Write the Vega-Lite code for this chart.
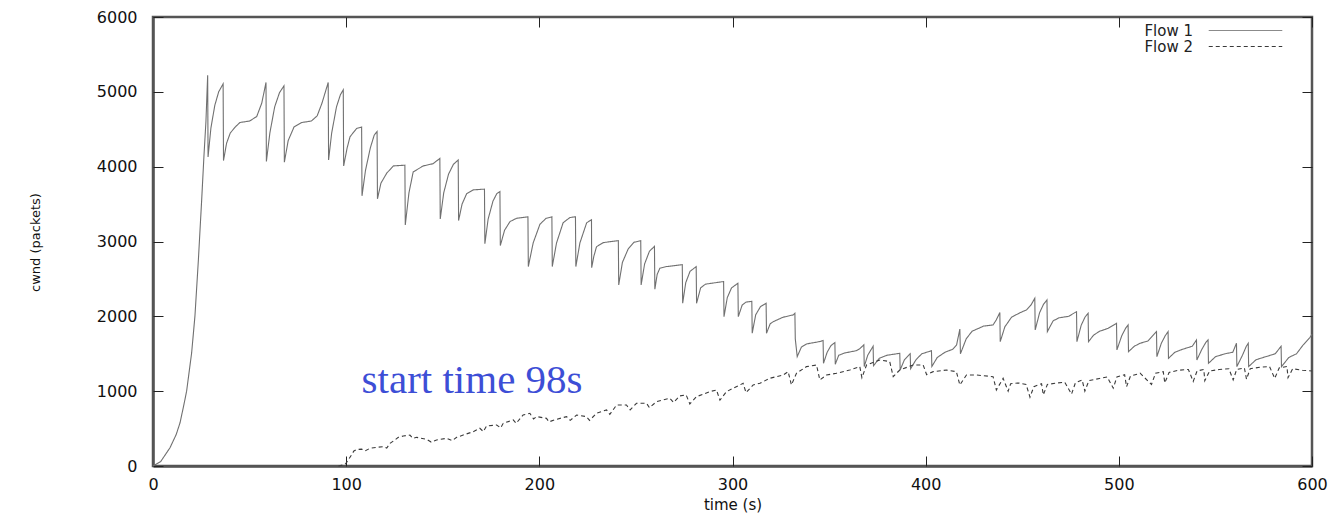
{
 "$schema": "https://vega.github.io/schema/vega-lite/v6.json",
 "width": 1159, "height": 449,
 "autosize": "none",
 "padding": {"left": 153, "top": 17, "right": 27, "bottom": 49},
 "background": "white",
 "config": {"view": {"stroke": "#555", "strokeWidth": 2.5}, "font": "DejaVu Sans"},
 "datasets": {
  "cwnd": [
   {"flow":"Flow 1","t":0,"v":0},{"flow":"Flow 1","t":4,"v":60},{"flow":"Flow 1","t":8.8,"v":244},{"flow":"Flow 1","t":12,"v":420},{"flow":"Flow 1","t":14,"v":578},{"flow":"Flow 1","t":16,"v":820},{"flow":"Flow 1","t":17.4,"v":1000},{"flow":"Flow 1","t":20,"v":1511},{"flow":"Flow 1","t":21.7,"v":2000},{"flow":"Flow 1","t":23.5,"v":2756},{"flow":"Flow 1","t":25.2,"v":3556},{"flow":"Flow 1","t":26.4,"v":4155},{"flow":"Flow 1","t":27.4,"v":4600},{"flow":"Flow 1","t":28.3,"v":5220},{"flow":"Flow 1","t":28.5,"v":4130},
   {"flow":"Flow 1","t":30,"v":4520},{"flow":"Flow 1","t":32,"v":4820},{"flow":"Flow 1","t":34,"v":5000},{"flow":"Flow 1","t":36.3,"v":5107},{"flow":"Flow 1","t":36.5,"v":4082},
   {"flow":"Flow 1","t":38.1,"v":4314},{"flow":"Flow 1","t":40,"v":4450},{"flow":"Flow 1","t":42.8,"v":4536},{"flow":"Flow 1","t":45,"v":4590},{"flow":"Flow 1","t":50,"v":4610},{"flow":"Flow 1","t":53.7,"v":4670},{"flow":"Flow 1","t":56.3,"v":4849},{"flow":"Flow 1","t":58.5,"v":5125},{"flow":"Flow 1","t":58.7,"v":4070},
   {"flow":"Flow 1","t":60.5,"v":4450},{"flow":"Flow 1","t":63,"v":4800},{"flow":"Flow 1","t":65.5,"v":4990},{"flow":"Flow 1","t":67.8,"v":5080},{"flow":"Flow 1","t":68,"v":4060},
   {"flow":"Flow 1","t":70,"v":4350},{"flow":"Flow 1","t":73,"v":4530},{"flow":"Flow 1","t":77,"v":4590},{"flow":"Flow 1","t":82,"v":4610},{"flow":"Flow 1","t":85,"v":4680},{"flow":"Flow 1","t":87.5,"v":4850},{"flow":"Flow 1","t":90.7,"v":5125},{"flow":"Flow 1","t":90.9,"v":4090},
   {"flow":"Flow 1","t":92.5,"v":4450},{"flow":"Flow 1","t":95,"v":4800},{"flow":"Flow 1","t":97,"v":4960},{"flow":"Flow 1","t":98.5,"v":5027},{"flow":"Flow 1","t":98.7,"v":4010},
   {"flow":"Flow 1","t":100.5,"v":4250},{"flow":"Flow 1","t":102,"v":4400},{"flow":"Flow 1","t":105.4,"v":4510},{"flow":"Flow 1","t":108,"v":4530},{"flow":"Flow 1","t":108.2,"v":3610},
   {"flow":"Flow 1","t":110,"v":3950},{"flow":"Flow 1","t":112.5,"v":4250},{"flow":"Flow 1","t":114.5,"v":4420},{"flow":"Flow 1","t":116,"v":4470},{"flow":"Flow 1","t":116.2,"v":3570},
   {"flow":"Flow 1","t":118,"v":3780},{"flow":"Flow 1","t":121,"v":3913},{"flow":"Flow 1","t":124.4,"v":4010},{"flow":"Flow 1","t":130.4,"v":4020},{"flow":"Flow 1","t":130.6,"v":3220},
   {"flow":"Flow 1","t":132.5,"v":3650},{"flow":"Flow 1","t":134.7,"v":3930},{"flow":"Flow 1","t":139.9,"v":4010},{"flow":"Flow 1","t":145,"v":4040},{"flow":"Flow 1","t":148.5,"v":4110},{"flow":"Flow 1","t":148.7,"v":3300},
   {"flow":"Flow 1","t":150.5,"v":3650},{"flow":"Flow 1","t":153,"v":3900},{"flow":"Flow 1","t":155.5,"v":4030},{"flow":"Flow 1","t":158,"v":4090},{"flow":"Flow 1","t":158.2,"v":3280},
   {"flow":"Flow 1","t":160,"v":3500},{"flow":"Flow 1","t":162.4,"v":3640},{"flow":"Flow 1","t":165.8,"v":3690},{"flow":"Flow 1","t":171.6,"v":3700},{"flow":"Flow 1","t":171.8,"v":2970},
   {"flow":"Flow 1","t":173.5,"v":3300},{"flow":"Flow 1","t":176,"v":3540},{"flow":"Flow 1","t":178,"v":3640},{"flow":"Flow 1","t":179.6,"v":3667},{"flow":"Flow 1","t":179.8,"v":2945},
   {"flow":"Flow 1","t":182,"v":3150},{"flow":"Flow 1","t":184.8,"v":3266},{"flow":"Flow 1","t":188.2,"v":3310},{"flow":"Flow 1","t":194.1,"v":3330},{"flow":"Flow 1","t":194.3,"v":2665},
   {"flow":"Flow 1","t":196.8,"v":2980},{"flow":"Flow 1","t":200.3,"v":3230},{"flow":"Flow 1","t":203.5,"v":3310},{"flow":"Flow 1","t":206.5,"v":3330},{"flow":"Flow 1","t":206.7,"v":2665},
   {"flow":"Flow 1","t":208.9,"v":2980},{"flow":"Flow 1","t":212.3,"v":3250},{"flow":"Flow 1","t":215.8,"v":3320},{"flow":"Flow 1","t":218.7,"v":3330},{"flow":"Flow 1","t":218.9,"v":2665},
   {"flow":"Flow 1","t":221,"v":2980},{"flow":"Flow 1","t":224.5,"v":3250},{"flow":"Flow 1","t":227,"v":3290},{"flow":"Flow 1","t":227.1,"v":2650},
   {"flow":"Flow 1","t":228.2,"v":2800},{"flow":"Flow 1","t":229.6,"v":2930},{"flow":"Flow 1","t":233.1,"v":2985},{"flow":"Flow 1","t":240.9,"v":3012},{"flow":"Flow 1","t":241.1,"v":2420},
   {"flow":"Flow 1","t":243,"v":2720},{"flow":"Flow 1","t":246,"v":2900},{"flow":"Flow 1","t":249,"v":2990},{"flow":"Flow 1","t":252.5,"v":3010},{"flow":"Flow 1","t":252.7,"v":2420},
   {"flow":"Flow 1","t":254.5,"v":2700},{"flow":"Flow 1","t":257,"v":2870},{"flow":"Flow 1","t":259.6,"v":2935},{"flow":"Flow 1","t":259.8,"v":2362},
   {"flow":"Flow 1","t":261,"v":2560},{"flow":"Flow 1","t":262.4,"v":2643},{"flow":"Flow 1","t":265.9,"v":2665},{"flow":"Flow 1","t":274,"v":2690},{"flow":"Flow 1","t":274.2,"v":2175},
   {"flow":"Flow 1","t":275.8,"v":2450},{"flow":"Flow 1","t":278,"v":2600},{"flow":"Flow 1","t":281.2,"v":2665},{"flow":"Flow 1","t":281.4,"v":2175},
   {"flow":"Flow 1","t":283.5,"v":2380},{"flow":"Flow 1","t":286,"v":2430},{"flow":"Flow 1","t":290,"v":2445},{"flow":"Flow 1","t":295.4,"v":2465},{"flow":"Flow 1","t":295.6,"v":1996},
   {"flow":"Flow 1","t":297.3,"v":2250},{"flow":"Flow 1","t":299.5,"v":2380},{"flow":"Flow 1","t":302.8,"v":2442},{"flow":"Flow 1","t":303,"v":1996},
   {"flow":"Flow 1","t":305,"v":2150},{"flow":"Flow 1","t":307,"v":2190},{"flow":"Flow 1","t":310,"v":2200},{"flow":"Flow 1","t":310.2,"v":1774},
   {"flow":"Flow 1","t":312,"v":2020},{"flow":"Flow 1","t":314.5,"v":2130},{"flow":"Flow 1","t":317.4,"v":2175},{"flow":"Flow 1","t":317.6,"v":1774},
   {"flow":"Flow 1","t":319.5,"v":1900},{"flow":"Flow 1","t":321.1,"v":1929},{"flow":"Flow 1","t":326.2,"v":1988},{"flow":"Flow 1","t":331.4,"v":2019},{"flow":"Flow 1","t":332.3,"v":2040},{"flow":"Flow 1","t":332.5,"v":1700},{"flow":"Flow 1","t":333.5,"v":1462},
   {"flow":"Flow 1","t":335.7,"v":1590},{"flow":"Flow 1","t":338.3,"v":1631},{"flow":"Flow 1","t":345.2,"v":1663},{"flow":"Flow 1","t":346.9,"v":1676},{"flow":"Flow 1","t":347.1,"v":1372},
   {"flow":"Flow 1","t":349,"v":1520},{"flow":"Flow 1","t":351,"v":1610},{"flow":"Flow 1","t":353,"v":1650},{"flow":"Flow 1","t":353.2,"v":1360},
   {"flow":"Flow 1","t":355,"v":1480},{"flow":"Flow 1","t":358,"v":1510},{"flow":"Flow 1","t":364,"v":1540},{"flow":"Flow 1","t":366,"v":1570},{"flow":"Flow 1","t":368,"v":1620},{"flow":"Flow 1","t":368.2,"v":1330},
   {"flow":"Flow 1","t":370,"v":1480},{"flow":"Flow 1","t":372.8,"v":1600},{"flow":"Flow 1","t":373,"v":1340},
   {"flow":"Flow 1","t":376,"v":1440},{"flow":"Flow 1","t":380,"v":1480},{"flow":"Flow 1","t":386.6,"v":1506},{"flow":"Flow 1","t":386.8,"v":1283},
   {"flow":"Flow 1","t":389,"v":1420},{"flow":"Flow 1","t":392,"v":1500},{"flow":"Flow 1","t":392.2,"v":1300},
   {"flow":"Flow 1","t":395,"v":1420},{"flow":"Flow 1","t":398,"v":1500},{"flow":"Flow 1","t":403,"v":1540},{"flow":"Flow 1","t":403.2,"v":1330},
   {"flow":"Flow 1","t":406,"v":1450},{"flow":"Flow 1","t":410,"v":1520},{"flow":"Flow 1","t":414,"v":1560},{"flow":"Flow 1","t":416,"v":1617},{"flow":"Flow 1","t":417.7,"v":1830},{"flow":"Flow 1","t":418,"v":1500},
   {"flow":"Flow 1","t":421,"v":1700},{"flow":"Flow 1","t":424,"v":1800},{"flow":"Flow 1","t":430,"v":1870},{"flow":"Flow 1","t":434.9,"v":1885},{"flow":"Flow 1","t":436.5,"v":1950},{"flow":"Flow 1","t":438.4,"v":2050},{"flow":"Flow 1","t":438.6,"v":1662},
   {"flow":"Flow 1","t":441,"v":1860},{"flow":"Flow 1","t":444.5,"v":1990},{"flow":"Flow 1","t":449,"v":2050},{"flow":"Flow 1","t":452.2,"v":2086},{"flow":"Flow 1","t":454.5,"v":2150},{"flow":"Flow 1","t":456.5,"v":2242},{"flow":"Flow 1","t":456.7,"v":1818},
   {"flow":"Flow 1","t":459,"v":2050},{"flow":"Flow 1","t":461,"v":2160},{"flow":"Flow 1","t":462.8,"v":2220},{"flow":"Flow 1","t":463,"v":1796},
   {"flow":"Flow 1","t":466,"v":1940},{"flow":"Flow 1","t":469,"v":1980},{"flow":"Flow 1","t":474,"v":2000},{"flow":"Flow 1","t":478.1,"v":2063},{"flow":"Flow 1","t":478.3,"v":1662},
   {"flow":"Flow 1","t":480.5,"v":1880},{"flow":"Flow 1","t":482.5,"v":1990},{"flow":"Flow 1","t":484.1,"v":2040},{"flow":"Flow 1","t":484.3,"v":1662},
   {"flow":"Flow 1","t":487,"v":1750},{"flow":"Flow 1","t":490,"v":1800},{"flow":"Flow 1","t":494.5,"v":1840},{"flow":"Flow 1","t":498.8,"v":1907},{"flow":"Flow 1","t":499,"v":1551},
   {"flow":"Flow 1","t":501.5,"v":1740},{"flow":"Flow 1","t":503.5,"v":1840},{"flow":"Flow 1","t":504.8,"v":1885},{"flow":"Flow 1","t":505,"v":1528},
   {"flow":"Flow 1","t":508,"v":1600},{"flow":"Flow 1","t":511,"v":1640},{"flow":"Flow 1","t":515,"v":1670},{"flow":"Flow 1","t":519.5,"v":1796},{"flow":"Flow 1","t":519.7,"v":1461},
   {"flow":"Flow 1","t":522,"v":1640},{"flow":"Flow 1","t":524,"v":1740},{"flow":"Flow 1","t":525.5,"v":1796},{"flow":"Flow 1","t":525.7,"v":1439},
   {"flow":"Flow 1","t":529,"v":1520},{"flow":"Flow 1","t":533,"v":1560},{"flow":"Flow 1","t":538,"v":1600},{"flow":"Flow 1","t":540.2,"v":1684},{"flow":"Flow 1","t":540.4,"v":1417},
   {"flow":"Flow 1","t":543,"v":1560},{"flow":"Flow 1","t":545,"v":1650},{"flow":"Flow 1","t":546.2,"v":1684},{"flow":"Flow 1","t":546.4,"v":1372},
   {"flow":"Flow 1","t":550,"v":1460},{"flow":"Flow 1","t":555,"v":1500},{"flow":"Flow 1","t":559,"v":1520},{"flow":"Flow 1","t":560.9,"v":1640},{"flow":"Flow 1","t":561.1,"v":1328},
   {"flow":"Flow 1","t":564,"v":1480},{"flow":"Flow 1","t":566,"v":1600},{"flow":"Flow 1","t":567,"v":1640},{"flow":"Flow 1","t":567.2,"v":1328},
   {"flow":"Flow 1","t":571,"v":1420},{"flow":"Flow 1","t":576,"v":1460},{"flow":"Flow 1","t":581,"v":1500},{"flow":"Flow 1","t":584,"v":1600},{"flow":"Flow 1","t":584.2,"v":1328},
   {"flow":"Flow 1","t":588,"v":1450},{"flow":"Flow 1","t":592,"v":1500},{"flow":"Flow 1","t":595.4,"v":1617},{"flow":"Flow 1","t":599,"v":1720},{"flow":"Flow 1","t":600,"v":1760},

   {"flow":"Flow 2","t":96,"v":0},{"flow":"Flow 2","t":99.4,"v":20},{"flow":"Flow 2","t":101.1,"v":80},{"flow":"Flow 2","t":102.8,"v":150},{"flow":"Flow 2","t":104,"v":200},{"flow":"Flow 2","t":105.4,"v":220},{"flow":"Flow 2","t":108,"v":225},{"flow":"Flow 2","t":110,"v":205},{"flow":"Flow 2","t":112.3,"v":236},{"flow":"Flow 2","t":115.8,"v":250},{"flow":"Flow 2","t":119.2,"v":258},{"flow":"Flow 2","t":121,"v":240},{"flow":"Flow 2","t":122.7,"v":303},{"flow":"Flow 2","t":125.2,"v":348},{"flow":"Flow 2","t":127,"v":383},{"flow":"Flow 2","t":129.6,"v":401},{"flow":"Flow 2","t":133,"v":414},{"flow":"Flow 2","t":134.5,"v":370},{"flow":"Flow 2","t":136.5,"v":383},{"flow":"Flow 2","t":141.6,"v":356},{"flow":"Flow 2","t":144,"v":320},{"flow":"Flow 2","t":146.8,"v":347},{"flow":"Flow 2","t":152,"v":370},{"flow":"Flow 2","t":155,"v":340},{"flow":"Flow 2","t":157.2,"v":383},{"flow":"Flow 2","t":160.6,"v":414},{"flow":"Flow 2","t":165.8,"v":459},{"flow":"Flow 2","t":169.2,"v":504},{"flow":"Flow 2","t":171,"v":460},{"flow":"Flow 2","t":172.7,"v":535},{"flow":"Flow 2","t":177.9,"v":548},{"flow":"Flow 2","t":180,"v":510},{"flow":"Flow 2","t":181.3,"v":570},{"flow":"Flow 2","t":186.5,"v":615},{"flow":"Flow 2","t":188,"v":570},{"flow":"Flow 2","t":191.6,"v":682},{"flow":"Flow 2","t":195.1,"v":704},{"flow":"Flow 2","t":197,"v":630},{"flow":"Flow 2","t":198.6,"v":660},{"flow":"Flow 2","t":203.7,"v":637},{"flow":"Flow 2","t":205,"v":590},{"flow":"Flow 2","t":208.9,"v":624},{"flow":"Flow 2","t":214.1,"v":660},{"flow":"Flow 2","t":216,"v":610},{"flow":"Flow 2","t":219.3,"v":682},{"flow":"Flow 2","t":224.4,"v":660},{"flow":"Flow 2","t":226,"v":610},{"flow":"Flow 2","t":229.6,"v":704},{"flow":"Flow 2","t":234.8,"v":749},{"flow":"Flow 2","t":236.5,"v":690},{"flow":"Flow 2","t":240,"v":815},{"flow":"Flow 2","t":245.1,"v":815},{"flow":"Flow 2","t":247,"v":750},{"flow":"Flow 2","t":250.3,"v":838},{"flow":"Flow 2","t":255.5,"v":838},{"flow":"Flow 2","t":257,"v":780},{"flow":"Flow 2","t":260.7,"v":860},{"flow":"Flow 2","t":267.6,"v":905},{"flow":"Flow 2","t":269.5,"v":850},{"flow":"Flow 2","t":272.7,"v":936},
   {"flow":"Flow 2","t":276,"v":950},{"flow":"Flow 2","t":277.9,"v":830},{"flow":"Flow 2","t":281.4,"v":927},{"flow":"Flow 2","t":288.3,"v":994},{"flow":"Flow 2","t":291.7,"v":1016},{"flow":"Flow 2","t":293.5,"v":880},{"flow":"Flow 2","t":296.9,"v":994},{"flow":"Flow 2","t":305.5,"v":1105},{"flow":"Flow 2","t":307,"v":980},{"flow":"Flow 2","t":310.7,"v":1083},{"flow":"Flow 2","t":314.2,"v":1105},{"flow":"Flow 2","t":319.3,"v":1172},{"flow":"Flow 2","t":326.2,"v":1216},{"flow":"Flow 2","t":328.8,"v":1261},{"flow":"Flow 2","t":330.5,"v":1083},{"flow":"Flow 2","t":333.1,"v":1239},{"flow":"Flow 2","t":338.3,"v":1328},{"flow":"Flow 2","t":343.5,"v":1350},{"flow":"Flow 2","t":345.2,"v":1150},{"flow":"Flow 2","t":348.7,"v":1216},{"flow":"Flow 2","t":353.8,"v":1239},{"flow":"Flow 2","t":360.7,"v":1283},{"flow":"Flow 2","t":365.9,"v":1328},{"flow":"Flow 2","t":367,"v":1180},{"flow":"Flow 2","t":369.4,"v":1350},{"flow":"Flow 2","t":376.3,"v":1417},{"flow":"Flow 2","t":381.4,"v":1395},{"flow":"Flow 2","t":383.2,"v":1194},{"flow":"Flow 2","t":386.6,"v":1283},{"flow":"Flow 2","t":393.5,"v":1350},{"flow":"Flow 2","t":398.7,"v":1350},{"flow":"Flow 2","t":400.5,"v":1220},{"flow":"Flow 2","t":403.9,"v":1261},{"flow":"Flow 2","t":410.8,"v":1283},{"flow":"Flow 2","t":415.9,"v":1261},{"flow":"Flow 2","t":417.7,"v":1083},{"flow":"Flow 2","t":421.1,"v":1216},{"flow":"Flow 2","t":426.3,"v":1216},{"flow":"Flow 2","t":434.9,"v":1194},{"flow":"Flow 2","t":436.6,"v":1016},{"flow":"Flow 2","t":440.1,"v":1172},
   {"flow":"Flow 2","t":442.7,"v":1000},{"flow":"Flow 2","t":444,"v":1100},{"flow":"Flow 2","t":448,"v":1110},{"flow":"Flow 2","t":452,"v":1090},{"flow":"Flow 2","t":454,"v":920},{"flow":"Flow 2","t":456,"v":1060},{"flow":"Flow 2","t":460,"v":1100},{"flow":"Flow 2","t":460.9,"v":950},{"flow":"Flow 2","t":463,"v":1090},{"flow":"Flow 2","t":468,"v":1110},{"flow":"Flow 2","t":472,"v":1120},{"flow":"Flow 2","t":475.5,"v":960},{"flow":"Flow 2","t":477.5,"v":1110},{"flow":"Flow 2","t":481,"v":1150},{"flow":"Flow 2","t":482.4,"v":1000},{"flow":"Flow 2","t":484.5,"v":1140},{"flow":"Flow 2","t":490,"v":1170},{"flow":"Flow 2","t":494,"v":1190},{"flow":"Flow 2","t":497.1,"v":1040},{"flow":"Flow 2","t":499,"v":1190},{"flow":"Flow 2","t":503,"v":1220},{"flow":"Flow 2","t":504,"v":1060},{"flow":"Flow 2","t":506,"v":1200},{"flow":"Flow 2","t":511,"v":1240},{"flow":"Flow 2","t":516.9,"v":1090},{"flow":"Flow 2","t":519,"v":1240},{"flow":"Flow 2","t":523,"v":1260},{"flow":"Flow 2","t":523.8,"v":1110},{"flow":"Flow 2","t":526,"v":1250},{"flow":"Flow 2","t":531,"v":1280},{"flow":"Flow 2","t":536,"v":1290},{"flow":"Flow 2","t":538.5,"v":1130},{"flow":"Flow 2","t":540.5,"v":1270},{"flow":"Flow 2","t":544,"v":1290},{"flow":"Flow 2","t":544.5,"v":1140},{"flow":"Flow 2","t":547,"v":1270},{"flow":"Flow 2","t":552,"v":1290},{"flow":"Flow 2","t":557,"v":1300},{"flow":"Flow 2","t":559.2,"v":1150},{"flow":"Flow 2","t":561,"v":1290},{"flow":"Flow 2","t":565,"v":1310},{"flow":"Flow 2","t":566.1,"v":1160},{"flow":"Flow 2","t":568,"v":1300},{"flow":"Flow 2","t":573,"v":1320},{"flow":"Flow 2","t":578,"v":1330},{"flow":"Flow 2","t":580.7,"v":1170},{"flow":"Flow 2","t":583,"v":1310},{"flow":"Flow 2","t":587,"v":1330},{"flow":"Flow 2","t":587.6,"v":1180},{"flow":"Flow 2","t":590,"v":1300},{"flow":"Flow 2","t":595,"v":1280},{"flow":"Flow 2","t":600,"v":1270}
  ],
  "note": [{"t": 108, "v": 975, "label": "start time 98s"}]
 },
 "layer": [
  {
   "data": {"name": "cwnd"},
   "mark": {"type": "line", "strokeWidth": 1.1},
   "encoding": {
    "x": {"field": "t", "type": "quantitative", "scale": {"domain": [0, 600], "nice": false, "zero": false},
      "axis": {"title": "time (s)", "values": [0,100,200,300,400,500,600], "format": "d", "ticks": false, "labelPadding": 10, "labelFlush": false, "labelOverlap": false, "labelFontSize": 16, "labelFont": "DejaVu Sans", "labelColor": "#111", "domainColor": "#555", "domainWidth": 2.5, "grid": false, "titleFontSize": 15, "titleFont": "DejaVu Sans", "titleFontWeight": "normal", "titleColor": "#111", "titlePadding": 5}},
    "y": {"field": "v", "type": "quantitative", "scale": {"domain": [0, 6000], "nice": false},
      "axis": {"title": "cwnd (packets)", "values": [0,1000,2000,3000,4000,5000,6000], "format": "d", "ticks": false, "labelPadding": 16, "labelFontSize": 16, "labelFont": "DejaVu Sans", "labelColor": "#111", "domainColor": "#555", "domainWidth": 2.5, "grid": false, "titleFontSize": 13, "titleFont": "DejaVu Sans", "titleFontWeight": "normal", "titleColor": "#111", "titleX": -111, "titleY": 225}},
    "color": {"field": "flow", "type": "nominal", "scale": {"domain": ["Flow 1", "Flow 2"], "range": ["#707070", "#3a3a3a"]},
      "legend": {"title": null, "orient": "none", "legendX": 1085, "legendY": 6, "symbolType": "M-6,0H6", "symbolSize": 150, "symbolStrokeWidth": 1, "labelAlign": "right", "labelOffset": -60, "labelFontSize": 15, "labelFont": "DejaVu Sans", "labelColor": "#222", "rowPadding": 0, "padding": 0}},
    "strokeDash": {"field": "flow", "type": "nominal", "scale": {"domain": ["Flow 1", "Flow 2"], "range": [[1, 0], [4, 3]]},
      "legend": {"title": null, "orient": "none", "legendX": 1085, "legendY": 6, "symbolType": "M-6,0H6", "symbolSize": 150, "symbolStrokeWidth": 1, "labelAlign": "right", "labelOffset": -60, "labelFontSize": 15, "labelFont": "DejaVu Sans", "labelColor": "#222", "rowPadding": 0, "padding": 0}}
   }
  },
  {
   "data": {"name": "note"},
   "mark": {"type": "text", "align": "left", "baseline": "alphabetic", "font": "Liberation Serif", "fontSize": 41, "color": "#3d4ed6"},
   "encoding": {
    "x": {"field": "t", "type": "quantitative", "axis": {"orient": "top", "offset": -449, "labels": false, "title": null, "domain": false, "values": [0,100,200,300,400,500,600], "tickSize": 10, "tickColor": "#222", "tickWidth": 1, "grid": false}},
    "y": {"field": "v", "type": "quantitative", "axis": {"orient": "right", "offset": -1159, "labels": false, "title": null, "domain": false, "values": [0,1000,2000,3000,4000,5000,6000], "tickSize": 10, "tickColor": "#222", "tickWidth": 1, "grid": false}},
    "text": {"field": "label"}
   }
  },
  {
   "data": {"name": "note"},
   "mark": {"type": "text", "opacity": 0},
   "encoding": {
    "x": {"field": "t", "type": "quantitative", "axis": {"orient": "bottom", "offset": -449, "labels": false, "title": null, "domain": false, "values": [0,100,200,300,400,500,600], "tickSize": 10, "tickColor": "#222", "tickWidth": 1, "grid": false}},
    "y": {"field": "v", "type": "quantitative", "axis": {"orient": "left", "offset": -1159, "labels": false, "title": null, "domain": false, "values": [0,1000,2000,3000,4000,5000,6000], "tickSize": 10, "tickColor": "#222", "tickWidth": 1, "grid": false}},
    "text": {"field": "label"}
   }
  }
 ],
 "resolve": {"axis": {"x": "independent", "y": "independent"}}
}
